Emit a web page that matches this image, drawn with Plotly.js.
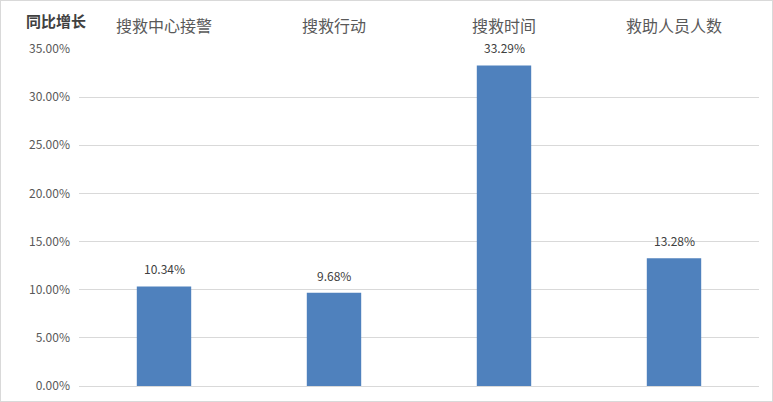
<!DOCTYPE html>
<html>
<head>
<meta charset="utf-8">
<script src="https://cdn.plot.ly/plotly-3.0.1.min.js"></script>
<style>
  html, body { margin: 0; padding: 0; background: #fff; }
  #chart { width: 773px; height: 402px; box-sizing: border-box; border: 1px solid #d9d9d9; }
</style>
</head>
<body>
<div id="chart"></div>
<script>
const categories = ['搜救中心接警', '搜救行动', '搜救时间', '救助人员人数']
const growth = [10.34, 9.68, 33.29, 13.28]
const yTicks = [0, 5, 10, 15, 20, 25, 30, 35]

const font = '"Noto Sans CJK SC", "Microsoft YaHei", sans-serif'

let labels = categories.map((c, i) => ({
  x: c,
  y: growth[i],
  text: growth[i].toFixed(2) + '%',
  showarrow: false,
  yanchor: 'bottom',
  yshift: 7,
  font: {family: font, size: 12, color: '#404040'},
}))

labels.push({
  xref: 'paper', yref: 'paper',
  x: -0.081, y: 1.0,
  xanchor: 'left', yanchor: 'bottom',
  yshift: 16,
  text: '<b>同比增长</b>',
  showarrow: false,
  font: {family: font, size: 15, color: '#404040'},
})

Plotly.newPlot('chart', [{
  x: categories,
  y: growth,
  type: 'bar',
  width: 0.32,
  marker: {color: '#4f81bd'},
  hoverinfo: 'none',
}], {
  width: 771,
  height: 400,
  margin: {l: 78, r: 13, t: 48, b: 15},
  paper_bgcolor: '#fff',
  plot_bgcolor: '#fff',
  showlegend: false,
  font: {family: font, color: '#595959'},
  xaxis: {
    side: 'top',
    showline: false,
    showgrid: false,
    ticks: '',
    ticklabelstandoff: 13,
    tickfont: {family: font, size: 16, color: '#595959'},
    fixedrange: true,
  },
  yaxis: {
    range: [0, 35],
    tickvals: yTicks,
    ticktext: yTicks.map(v => v.toFixed(2) + '%'),
    showgrid: true,
    gridcolor: '#d9d9d9',
    gridwidth: 1,
    zeroline: true,
    zerolinecolor: '#d9d9d9',
    zerolinewidth: 1,
    showline: false,
    ticks: '',
    ticklabelstandoff: 8,
    tickfont: {family: font, size: 12, color: '#595959'},
    fixedrange: true,
  },
  annotations: labels,
}, {displayModeBar: false, staticPlot: true})
</script>
</body>
</html>
